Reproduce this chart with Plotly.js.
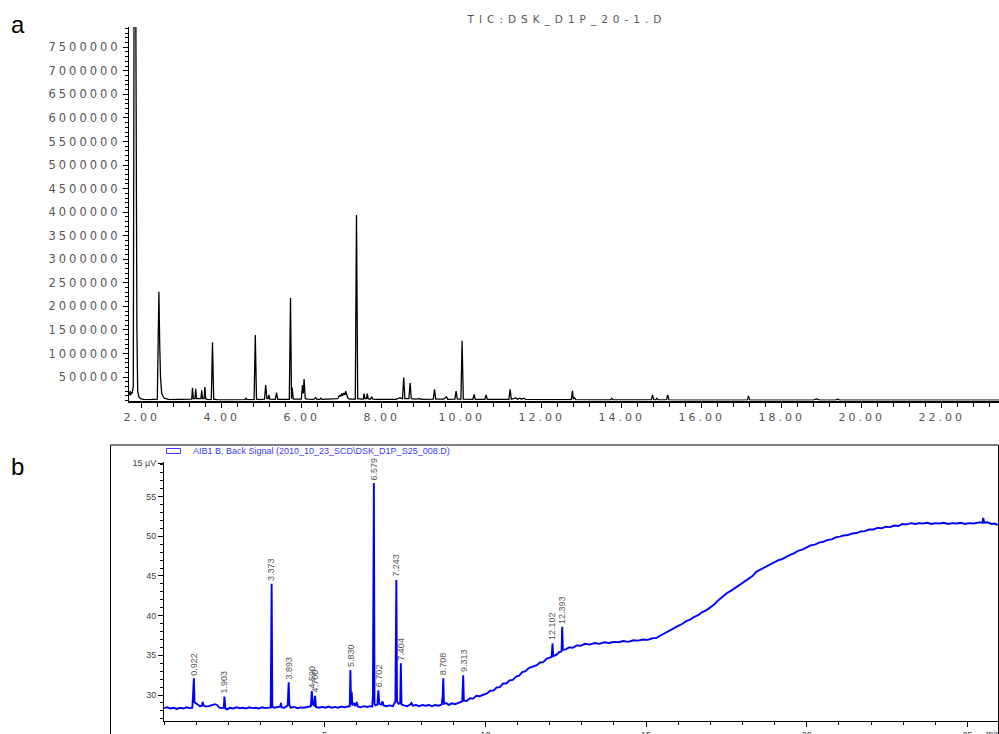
<!DOCTYPE html>
<html>
<head>
<meta charset="utf-8">
<script src="https://cdn.plot.ly/plotly-3.0.1.min.js"></script>
<style>
  html, body { margin: 0; padding: 0; background: #fff; }
  #chart { width: 999px; height: 734px; }
  .xtick text, .ytick text { letter-spacing: 3px; }
  .gtitle { letter-spacing: 5px; }
</style>
</head>
<body>
<div id="chart"></div>
<script>
// ---------- Panel a : TIC chromatogram ----------
const ticTime = [1.69,1.71,1.72,1.74,1.76,1.79,1.81,1.85,1.88,1.90,1.93,1.97,2.05,2.20,2.39,2.43,2.45,2.47,2.50,2.56,2.70,2.85,3.00,3.15,3.25,3.27,3.29,3.33,3.35,3.37,3.45,3.48,3.50,3.52,3.56,3.58,3.60,3.65,3.74,3.77,3.80,3.90,4.10,4.30,4.58,4.61,4.64,4.81,4.84,4.87,4.95,5.07,5.10,5.13,5.16,5.18,5.20,5.34,5.37,5.40,5.55,5.69,5.72,5.745,5.76,5.79,5.90,5.99,6.02,6.04,6.06,6.09,6.15,6.30,6.35,6.38,6.45,6.48,6.51,6.70,6.90,6.95,6.97,7.00,7.02,7.05,7.08,7.10,7.12,7.15,7.20,7.34,7.37,7.40,7.50,7.54,7.56,7.58,7.62,7.64,7.66,7.72,7.75,7.78,7.90,8.10,8.35,8.40,8.45,8.52,8.55,8.58,8.68,8.71,8.74,8.85,8.95,9.00,9.15,9.29,9.32,9.35,9.55,9.62,9.65,9.83,9.86,9.89,9.98,10.01,10.04,10.15,10.28,10.31,10.34,10.58,10.61,10.64,10.90,11.18,11.21,11.24,11.30,11.35,11.40,11.45,11.50,11.55,11.60,11.80,12.20,12.50,12.74,12.77,12.79,12.82,12.85,13.30,13.72,13.75,13.78,14.40,14.74,14.77,14.80,14.85,14.88,14.91,15.12,15.15,15.18,15.60,16.20,17.14,17.17,17.20,17.50,18.00,18.80,18.87,18.95,19.35,19.40,19.45,20.50,21.50,22.50,23.45];
const ticAbundance = [120000,200000,110000,180000,150000,300000,9000000,9000000,1500000,200000,80000,40000,25000,20000,30000,2310000,1200000,500000,150000,50000,20000,25000,20000,20000,30000,270000,40000,40000,250000,40000,30000,40000,220000,40000,40000,290000,40000,20000,20000,1240000,30000,15000,15000,20000,20000,50000,20000,20000,1390000,30000,20000,30000,330000,40000,40000,120000,30000,25000,170000,25000,25000,25000,2180000,40000,280000,30000,25000,30000,330000,150000,460000,40000,30000,25000,60000,25000,25000,50000,25000,25000,40000,120000,80000,150000,100000,160000,120000,200000,110000,60000,30000,30000,3940000,40000,30000,30000,150000,40000,40000,150000,40000,30000,80000,30000,25000,20000,25000,40000,60000,40000,490000,40000,40000,370000,40000,30000,40000,25000,30000,30000,240000,30000,30000,80000,25000,30000,200000,30000,30000,1270000,30000,25000,25000,130000,25000,25000,120000,25000,20000,25000,240000,30000,40000,60000,30000,50000,30000,50000,25000,20000,20000,20000,20000,210000,30000,60000,20000,15000,15000,50000,15000,15000,15000,120000,20000,15000,50000,15000,15000,120000,15000,10000,10000,10000,100000,10000,10000,8000,10000,35000,10000,10000,30000,10000,10000,10000,10000,10000];
const ticYTickVals = [500000,1000000,1500000,2000000,2500000,3000000,3500000,4000000,4500000,5000000,5500000,6000000,6500000,7000000,7500000];
const ticYTickText = ["500000","1000000","1500000","2000000","2500000","3000000","3500000","4000000","4500000","5000000","5500000","6000000","6500000","7000000","7500000"];
const ticTitle = "TIC:DSK_D1P_20-1.D";

// ---------- Panel b : FID back signal ----------
const fidTime = [0.00,0.10,0.20,0.30,0.40,0.50,0.60,0.70,0.80,0.88,0.90,0.93,0.95,0.98,1.05,1.12,1.18,1.20,1.23,1.30,1.40,1.50,1.58,1.65,1.72,1.80,1.86,1.88,1.91,1.97,2.05,2.15,2.25,2.35,2.45,2.55,2.65,2.75,2.85,2.95,3.05,3.15,3.25,3.32,3.35,3.37,3.45,3.55,3.62,3.64,3.66,3.75,3.85,3.88,3.90,3.94,4.05,4.15,4.25,4.35,4.45,4.57,4.60,4.63,4.67,4.70,4.73,4.82,4.92,5.02,5.12,5.22,5.32,5.42,5.52,5.62,5.72,5.78,5.80,5.82,5.84,5.86,5.92,5.95,6.00,6.03,6.12,6.22,6.32,6.42,6.48,6.50,6.515,6.53,6.55,6.58,6.64,6.67,6.70,6.76,6.80,6.83,6.92,7.02,7.12,7.20,7.23,7.25,7.30,7.35,7.37,7.39,7.47,7.57,7.66,7.70,7.74,7.84,7.94,8.04,8.14,8.24,8.34,8.44,8.54,8.64,8.67,8.69,8.71,8.78,8.86,8.96,9.06,9.16,9.28,9.31,9.33,9.42,9.52,9.62,9.72,9.82,9.94,10.05,10.15,10.25,10.35,10.45,10.55,10.65,10.75,10.85,10.97,11.05,11.15,11.25,11.35,11.49,11.60,11.70,11.80,11.90,12.00,12.06,12.09,12.11,12.20,12.30,12.37,12.39,12.41,12.50,12.60,12.72,12.84,12.96,13.10,13.25,13.40,13.55,13.70,13.85,14.00,14.15,14.29,14.45,14.60,14.75,14.90,15.05,15.20,15.33,15.45,15.60,15.72,15.85,16.00,16.12,16.25,16.37,16.50,16.62,16.75,16.88,17.00,17.12,17.25,17.40,17.52,17.65,17.80,17.92,18.05,18.20,18.30,18.44,18.55,18.70,18.82,18.96,19.10,19.22,19.35,19.48,19.60,19.75,19.88,20.00,20.12,20.25,20.38,20.51,20.65,20.78,20.90,21.03,21.15,21.28,21.42,21.55,21.68,21.80,21.94,22.07,22.20,22.33,22.46,22.59,22.72,22.85,22.98,23.11,23.25,23.38,23.50,23.62,23.75,23.88,24.00,24.13,24.26,24.40,24.53,24.66,24.80,24.93,25.06,25.20,25.35,25.47,25.49,25.52,25.62,25.75,25.85,25.95];
const fidSignal = [28.35,28.45,28.30,28.40,28.25,28.40,28.30,28.45,28.35,28.40,29.70,32.10,29.10,29.00,28.75,28.60,28.65,29.15,28.70,28.55,28.60,28.70,28.85,28.75,28.40,28.35,28.40,29.80,28.30,28.20,28.40,28.30,28.45,28.35,28.40,28.30,28.45,28.35,28.40,28.30,28.45,28.35,28.45,28.45,44.00,28.50,28.40,28.50,28.55,29.00,28.45,28.40,28.70,31.60,28.80,28.40,28.50,28.35,28.45,28.40,28.50,28.60,30.50,28.80,28.70,29.90,28.50,28.40,28.50,28.40,28.55,28.40,28.50,28.40,28.55,28.45,28.55,28.60,33.15,28.80,30.40,28.70,29.00,28.60,29.10,28.55,28.45,28.60,28.50,28.60,28.55,30.00,43.00,56.70,28.90,28.70,28.80,30.60,28.90,28.80,29.20,28.70,28.60,28.70,28.60,29.20,44.50,29.20,28.90,29.00,34.00,28.80,28.70,28.60,28.80,29.00,28.65,28.75,28.60,28.75,28.65,28.75,28.60,28.75,28.65,28.80,29.80,32.10,28.90,29.00,28.75,28.95,28.85,29.05,29.20,32.50,29.30,29.25,29.60,29.55,29.90,29.85,30.05,30.20,30.55,30.55,30.95,31.00,31.45,31.45,31.85,31.90,32.35,32.45,32.90,33.00,33.40,33.65,33.75,34.10,34.15,34.55,34.70,34.80,36.50,34.90,35.05,35.40,35.50,38.60,35.70,35.75,36.00,35.95,36.25,36.20,36.45,36.35,36.55,36.45,36.65,36.55,36.70,36.65,36.80,36.70,36.90,36.85,37.00,36.95,37.15,37.20,37.50,37.85,38.05,38.40,38.70,38.95,39.30,39.50,39.85,40.05,40.45,40.70,41.05,41.40,41.95,42.45,42.85,43.15,43.55,43.85,44.25,44.65,44.95,45.55,45.80,46.15,46.35,46.65,46.95,47.10,47.40,47.65,47.85,48.20,48.35,48.65,48.85,48.95,49.20,49.30,49.55,49.60,49.85,49.95,50.10,50.15,50.35,50.40,50.60,50.65,50.85,50.85,51.05,51.00,51.20,51.15,51.35,51.30,51.55,51.50,51.65,51.55,51.65,51.60,51.70,51.55,51.65,51.60,51.70,51.55,51.65,51.60,51.70,51.55,51.65,51.60,51.75,51.70,52.30,51.70,51.75,51.55,51.60,51.40];
const peakTimes = [0.93,1.88,3.35,3.88,4.60,4.70,5.80,6.53,6.67,7.23,7.37,8.69,9.31,12.09,12.39];
const peakApex  = [32.10,29.80,44.00,31.60,30.50,29.90,33.15,56.70,30.60,44.50,34.00,32.10,32.50,36.50,38.60];
const peakLabels = ["0.922","1.903","3.373","3.893","4.590","4.700","5.830","6.579","6.702","7.243","7.404","8.708","9.313","12.102","12.393"];
const fidYTickVals = [30,35,40,45,50,55,59.2];
const fidYTickText = ["30","35","40","45","50","55","15 µV"];
const fidXTickVals = [5,10,15,20,25];
const fidLegendText = "AIB1 B, Back Signal (2010_10_23_SCD\\DSK_D1P_S25_008.D)";

const W = 999, H = 734;
const px = v => v / W;
const py = v => 1 - v / H;

const grayTop = '#555555';
const fontTop = 'DejaVu Sans, sans-serif';
const fontB = 'Liberation Sans, Arial, sans-serif';

const traces = [
  { x: ticTime, y: ticAbundance, type: 'scatter', mode: 'lines', xaxis: 'x', yaxis: 'y',
    line: { color: '#000000', width: 1.3 }, hoverinfo: 'skip' },
  { x: fidTime, y: fidSignal, type: 'scatter', mode: 'lines', xaxis: 'x2', yaxis: 'y2',
    line: { color: '#0000ff', width: 1.9 }, hoverinfo: 'skip' }
];

const annotations = [
  { text: 'a', xref: 'paper', yref: 'paper', x: px(9), y: py(24), xanchor: 'left', yanchor: 'middle',
    showarrow: false, font: { family: fontB, size: 24, color: '#000' } },
  { text: 'b', xref: 'paper', yref: 'paper', x: px(9), y: py(466), xanchor: 'left', yanchor: 'middle',
    showarrow: false, font: { family: fontB, size: 24, color: '#000' } },
  { text: fidLegendText, xref: 'paper', yref: 'paper', x: px(191), y: py(451), xanchor: 'left', yanchor: 'middle',
    showarrow: false, font: { family: fontB, size: 9, color: '#3a3aff' } },
  { text: 'min', xref: 'paper', yref: 'paper', x: px(984), y: py(727), xanchor: 'left', yanchor: 'top',
    showarrow: false, font: { family: fontB, size: 9, color: '#444' } }
];
peakTimes.forEach((t, i) => {
  annotations.push({ text: peakLabels[i], xref: 'x2', yref: 'y2', x: t, y: peakApex[i],
    xanchor: 'center', yanchor: 'bottom', yshift: 1, textangle: -90, showarrow: false,
    font: { family: fontB, size: 9, color: '#555' } });
});

const layout = {
  width: W, height: H,
  margin: { l: 0, r: 0, t: 0, b: 0, pad: 0 },
  paper_bgcolor: '#ffffff', plot_bgcolor: '#ffffff',
  showlegend: false,
  title: { text: ticTitle, x: px(567), xanchor: 'center', y: py(19), yanchor: 'middle', xref: 'paper', yref: 'paper',
    font: { family: fontTop, size: 10.5, color: grayTop } },
  xaxis: {
    domain: [px(129), 1], range: [1.6825, 23.4325], anchor: 'y',
    showgrid: false, zeroline: false, showline: true, linecolor: '#000', linewidth: 2,
    ticks: 'outside', ticklen: 5, tickwidth: 1, tickcolor: '#000',
    tickmode: 'linear', tick0: 2, dtick: 2, tickformat: '.2f',
    minor: { tickmode: 'linear', tick0: 2, dtick: 0.4, ticks: 'outside', ticklen: 4, tickcolor: '#000', showgrid: false },
    tickfont: { family: fontTop, size: 11, color: grayTop }
  },
  yaxis: {
    domain: [py(400.6), py(27)], range: [0, 7930000], anchor: 'x',
    showgrid: false, zeroline: false, showline: true, linecolor: '#000', linewidth: 1,
    ticks: 'outside', ticklen: 5, tickwidth: 1, tickcolor: '#000',
    tickmode: 'array', tickvals: ticYTickVals, ticktext: ticYTickText,
    minor: { tickmode: 'linear', tick0: 0, dtick: 100000, ticks: 'outside', ticklen: 3, tickcolor: '#000', showgrid: false },
    tickfont: { family: fontTop, size: 11.5, color: grayTop }
  },
  xaxis2: {
    domain: [px(164), px(998)], range: [0, 25.95], anchor: 'y2',
    showgrid: false, zeroline: false, showline: true, linecolor: '#000', linewidth: 1,
    ticks: 'outside', ticklen: 5, tickwidth: 1, tickcolor: '#000',
    tickmode: 'array', tickvals: fidXTickVals,
    minor: { tickmode: 'linear', tick0: 0, dtick: 1, ticks: 'outside', ticklen: 3, tickcolor: '#000', showgrid: false },
    tickfont: { family: fontB, size: 9, color: '#444' }
  },
  yaxis2: {
    domain: [py(721), py(462)], range: [26.73, 59.35], anchor: 'x2',
    showgrid: false, zeroline: false, showline: true, linecolor: '#000', linewidth: 1,
    ticks: 'outside', ticklen: 5, tickwidth: 1, tickcolor: '#000',
    tickmode: 'array', tickvals: fidYTickVals, ticktext: fidYTickText,
    minor: { tickmode: 'linear', tick0: 0, dtick: 1, ticks: 'outside', ticklen: 3, tickcolor: '#000', showgrid: false },
    tickfont: { family: fontB, size: 9, color: '#444' }
  },
  shapes: [
    { type: 'rect', xref: 'paper', yref: 'paper', x0: px(110.5), x1: px(998.5), y0: -0.05, y1: py(445),
      line: { color: '#000', width: 1 }, fillcolor: 'rgba(0,0,0,0)' },
    { type: 'rect', xref: 'paper', yref: 'paper', x0: px(166.5), x1: px(180.5), y0: py(453.5), y1: py(448.5),
      line: { color: '#3a3aff', width: 1 }, fillcolor: 'rgba(0,0,0,0)' }
  ],
  annotations: annotations
};

Plotly.newPlot('chart', traces, layout, { displayModeBar: false, staticPlot: true });
</script>
</body>
</html>
